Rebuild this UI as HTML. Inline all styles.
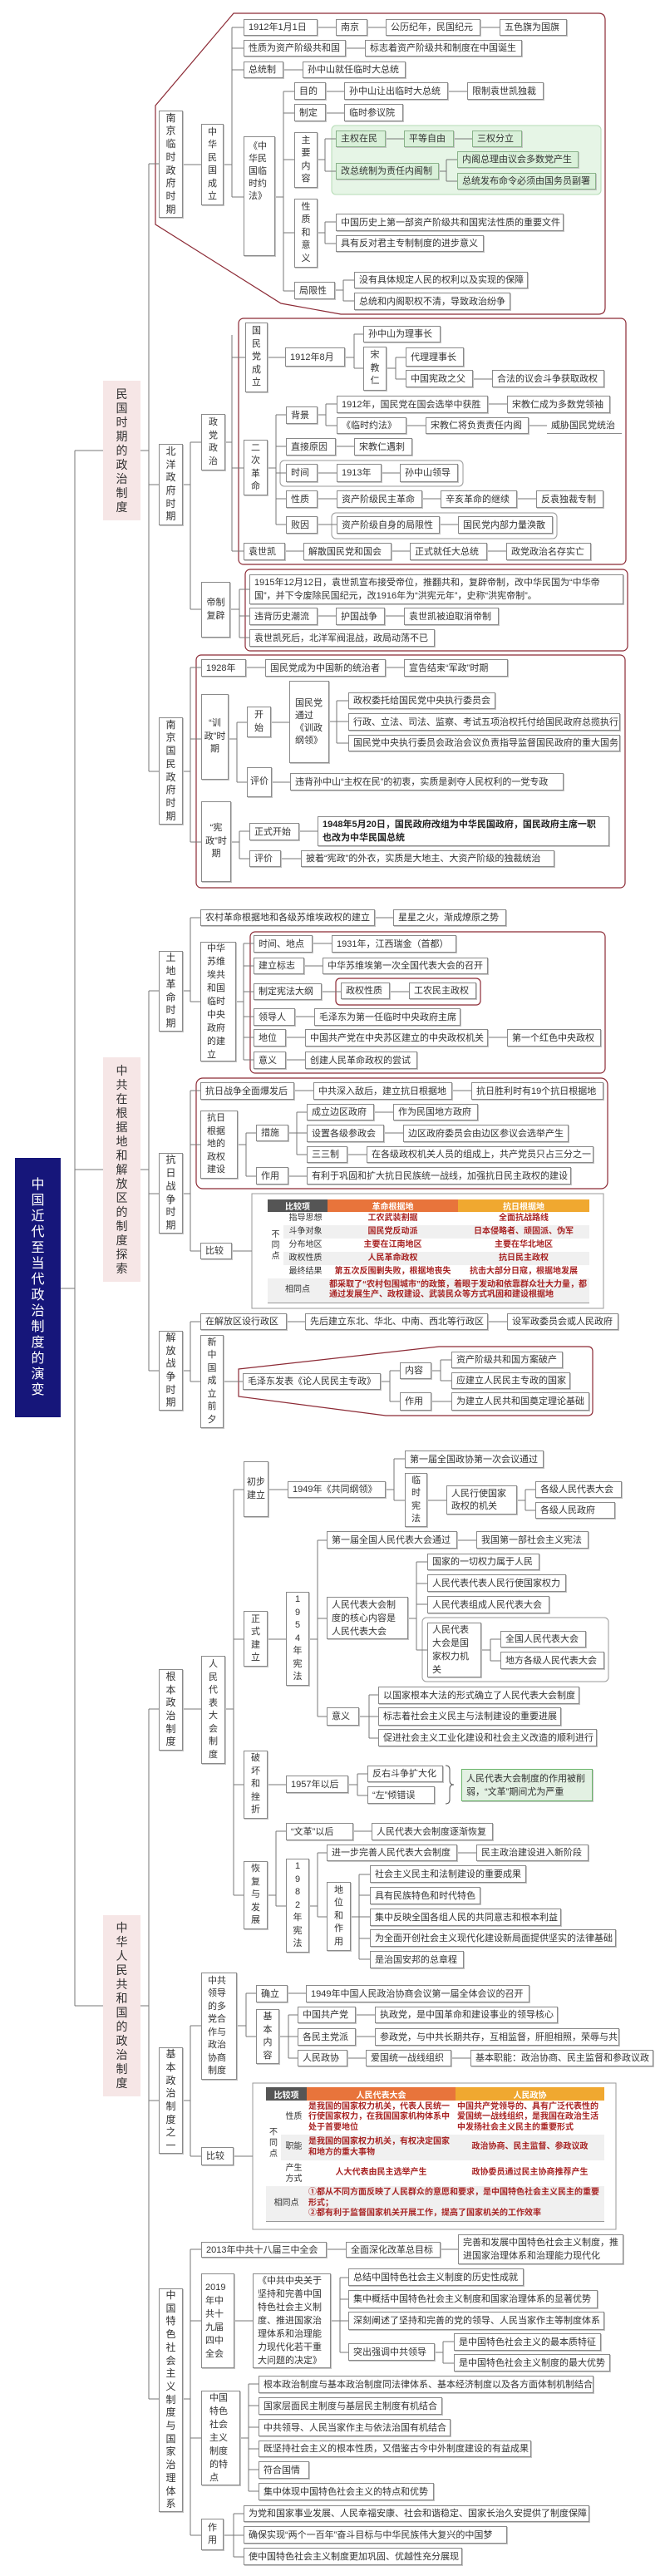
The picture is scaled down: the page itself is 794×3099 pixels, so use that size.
<!DOCTYPE html>
<html><head><meta charset="utf-8">
<style>
*{margin:0;padding:0;box-sizing:border-box}
body{width:794px;height:3099px;position:relative;background:#fff;overflow:hidden;font-family:"Liberation Sans","Noto Sans CJK SC",sans-serif;color:#333}
svg{position:absolute;left:0;top:0}
.b{position:absolute;background:#fff;border:1px solid #8a8a8a;box-shadow:1px 1px 0 #c4c4c4;font-size:11px;line-height:14px;display:flex;align-items:center;padding:0 5px;white-space:nowrap}
.v{white-space:normal;word-break:break-all;justify-content:center;text-align:center;padding:0 3px;line-height:15.5px}
.w{white-space:normal;word-break:break-all;line-height:15px}
.L2{font-size:12px;justify-content:center;text-align:center;white-space:normal;word-break:break-all;padding:0 3px;line-height:15.7px}
.pk{position:absolute;background:#f6e6e6;font-size:14px;line-height:17px;display:flex;align-items:center;justify-content:center;text-align:center;padding:0 14px;word-break:break-all}
.g{background:#d9f0d9;border-color:#8ab38a}
.t{position:absolute;border-collapse:collapse;table-layout:fixed;font-size:10px;background:#fff}
.t th{color:#fff;font-weight:bold;text-align:center}
.t td{text-align:center;color:#a82323;font-weight:bold;line-height:12.5px;padding:0 2px}
.t td.s{color:#333;font-weight:normal}
.t tr.gr td{background:#f0f0f0}
.t tr:last-child td{border-bottom:1px solid #999}
</style></head><body>
<svg width="794" height="3099">
<g fill="none" stroke="#8c2a35" stroke-width="1.2">
<path d="M281 16H720Q728 16 728 24V370Q728 378 720 378H410L338 365L187 270V127Z"/>
<rect x="287" y="383" width="466" height="296" rx="6"/>
<rect x="295" y="685" width="460" height="98" rx="6"/>
<rect x="236" y="788" width="516" height="280" rx="6"/>
<rect x="301" y="1121" width="427" height="170" rx="6"/>
<rect x="404" y="1177" width="174" height="32" rx="5"/>
<rect x="236" y="1297" width="495" height="133" rx="8"/>
<path d="M287 1647L528 1620H707Q713 1620 713 1626V1697Q713 1703 707 1703H464L287 1680Z"/>
</g>
<g fill="none" stroke="#999">
<rect x="337" y="554" width="220" height="31" rx="5"/>
<rect x="399" y="617" width="271" height="31" rx="5"/>
<rect x="508" y="1946" width="224" height="77" rx="5"/>
<rect x="303" y="1436" width="423" height="138"/>
<rect x="304" y="2506" width="437" height="176"/>
</g>
<rect x="399" y="151" width="324" height="83" rx="5" fill="#e6f5e6" stroke="#b5dbb5"/>
<path fill="none" stroke="#555" d="M536 2124q5 0 5 5V2142q0 5 5 5q-5 0-5 5V2165q0 5-5 5"/>
<path fill="none" stroke="#777" stroke-width="1" d="
M73 1550H90M90 542V2413M90 542H124M90 1407H124M90 2413H124
M169 542H179M179 197V928M179 197H191M179 583H191M179 928H191
M169 1407H179M179 1192V1649M179 1192H191M179 1436H191M179 1649H191
M169 2413H179M179 2056V2886M179 2056H191M179 2527H191M179 2886H191
M220 198H279M279 33V237M279 33H682M279 58H628M279 84H488M279 237H293
M331 237H341M341 110V350M341 110H654M341 136H485M341 192H354M341 280H354M341 350H354
M382 192H391M391 167V206M391 167H628M391 206H537M537 192V218M537 192H550M537 218H550
M382 280H391M391 267V293M391 267H404M391 293H404
M403 349H413M413 337V362M413 337H426M413 362H426
M220 583H229M229 532V733M229 532H242M229 733H242
M271 532H279M279 403V663M279 430H343M279 563H293M279 663H711
M415 430H426M426 402V443M426 402H437M426 443H437
M465 443H476M476 430V456M476 430H488M476 456H727
M322 563H332M332 499V631M332 499H344M332 537H496M332 569H551M332 600H726M332 631H665
M382 499H392M392 486V512M392 486H734M392 512H658
M277 733H288M288 709V767M288 709H300M288 741H600M288 767H300
M220 928H229M229 803V1013M229 803H611M229 889H242M229 1013H242
M275 889H285M285 869V941M285 869H348M285 941H678
M396 868H405M405 843V894M405 843H419M405 868H419M405 894H419
M278 1013H288M288 1000V1033M288 1000H382M288 1033H667
M220 1192H229M229 1104V1205M229 1104H609M229 1205H241
M284 1205H293M293 1135V1275M293 1135H549M293 1162H587M293 1193H573M293 1223H554M293 1248H723M293 1275H502
M220 1436H229M229 1312V1505M229 1312H726M229 1377H241M229 1505H303
M286 1377H296M296 1363V1415M296 1363H308M296 1415H687
M347 1363H357M357 1338V1389M357 1338H575M357 1363H684M357 1389H714
M220 1649H229M229 1590V1662M229 1590H744M229 1662H292
M458 1662H469M469 1649V1686M469 1649H481M469 1686H709
M519 1649H530M530 1636V1661M530 1636H543M530 1661H543
M220 2056H281M281 1792V2280M281 1792H474M281 1972H382M281 2147H430M281 2280H332
M474 1755V1805M474 1755H487M474 1805H632M632 1792V1817M632 1792H644M632 1817H644
M382 1853V2065M382 1853H708M382 1947H501M382 2065H444
M501 1879V1985M501 1879H514M501 1905H514M501 1930H514M501 1985H590
M590 1972V1998M590 1972H602M590 1998H602
M444 2039V2091M444 2039H455M444 2065H455M444 2091H455
M430 2134V2160M430 2134H442M430 2160H442
M332 2203V2293M332 2203H593M332 2293H382M382 2229V2306M382 2229H708M382 2306H432
M432 2255V2357M432 2255H445M432 2280H445M432 2306H445M432 2332H445M432 2357H445
M220 2527H229M229 2437V2594M229 2437H296M229 2594H304
M296 2398V2450M296 2398H637M296 2450H347M347 2424V2476M347 2424H671M347 2450H745M347 2476H786
M220 2886H229M229 2706V3050M229 2706H551M229 2792H409M229 2933H299M229 3050H281
M409 2740V2830M409 2740H419M409 2766H419M409 2792H419M409 2830H533M533 2817V2843M533 2817H546M533 2843H546
M299 2868V2997M299 2868H311M299 2894H311M299 2920H311M299 2946H311M299 2971H311M299 2997H311
M281 3024V3076M281 3024H293M281 3050H293M281 3076H293"/>
</svg>

<div class="pk" style="left:18px;top:1393px;width:55px;height:312px;background:#16167a;color:#fff;font-size:16px;line-height:19px;padding:0 17px">中国近代至当代政治制度的演变</div>
<div class="pk" style="left:124px;top:458px;width:45px;height:168px">民国时期的政治制度</div>
<div class="pk" style="left:124px;top:1272px;width:45px;height:270px">中共在根据地和解放区的制度探索</div>
<div class="pk" style="left:124px;top:2304px;width:45px;height:218px">中华人民共和国的政治制度</div>

<div class="b L2" style="left:191px;top:133px;width:29px;height:129px">南京临时政府时期</div>
<div class="b v" style="left:242px;top:149px;width:27px;height:98px">中华民国成立</div>
<div class="b" style="left:293px;top:23px;width:89px;height:20px">1912年1月1日</div>
<div class="b" style="left:404px;top:23px;width:38px;height:20px">南京</div>
<div class="b" style="left:464px;top:23px;width:114px;height:20px">公历纪年，民国纪元</div>
<div class="b" style="left:601px;top:23px;width:81px;height:20px">五色旗为国旗</div>
<div class="b" style="left:293px;top:48px;width:123px;height:20px">性质为资产阶级共和国</div>
<div class="b" style="left:439px;top:48px;width:189px;height:20px">标志着资产阶级共和制度在中国诞生</div>
<div class="b" style="left:293px;top:74px;width:48px;height:20px">总统制</div>
<div class="b" style="left:364px;top:74px;width:124px;height:20px">孙中山就任临时大总统</div>
<div class="b w" style="left:293px;top:164px;width:38px;height:144px;align-items:flex-start;padding-top:4px">《中华民国临时约法》</div>
<div class="b" style="left:354px;top:99px;width:38px;height:21px">目的</div>
<div class="b" style="left:414px;top:99px;width:125px;height:21px">孙中山让出临时大总统</div>
<div class="b" style="left:562px;top:99px;width:92px;height:21px">限制袁世凯独裁</div>
<div class="b" style="left:354px;top:125px;width:38px;height:21px">制定</div>
<div class="b" style="left:414px;top:125px;width:71px;height:21px">临时参议院</div>
<div class="b v" style="left:354px;top:159px;width:28px;height:67px">主要内容</div>
<div class="b g" style="left:404px;top:157px;width:60px;height:20px">主权在民</div>
<div class="b g" style="left:486px;top:157px;width:60px;height:20px">平等自由</div>
<div class="b g" style="left:568px;top:157px;width:60px;height:20px">三权分立</div>
<div class="b g" style="left:404px;top:196px;width:124px;height:20px">改总统制为责任内阁制</div>
<div class="b g" style="left:550px;top:182px;width:146px;height:20px">内阁总理由议会多数党产生</div>
<div class="b g" style="left:550px;top:208px;width:167px;height:20px">总统发布命令必须由国务员副署</div>
<div class="b v" style="left:354px;top:239px;width:28px;height:83px">性质和意义</div>
<div class="b" style="left:404px;top:257px;width:274px;height:21px">中国历史上第一部资产阶级共和国宪法性质的重要文件</div>
<div class="b" style="left:404px;top:283px;width:178px;height:20px">具有反对君主专制制度的进步意义</div>
<div class="b" style="left:354px;top:339px;width:49px;height:21px">局限性</div>
<div class="b" style="left:426px;top:327px;width:209px;height:20px">没有具体规定人民的权利以及实现的保障</div>
<div class="b" style="left:426px;top:352px;width:188px;height:21px">总统和内阁职权不清，导致政治纷争</div>

<div class="b L2" style="left:191px;top:534px;width:29px;height:98px">北洋政府时期</div>
<div class="b v" style="left:242px;top:498px;width:29px;height:68px">政党政治</div>
<div class="b v" style="left:295px;top:388px;width:27px;height:84px">国民党成立</div>
<div class="b" style="left:343px;top:418px;width:72px;height:23px">1912年8月</div>
<div class="b" style="left:437px;top:392px;width:93px;height:20px">孙中山为理事长</div>
<div class="b v" style="left:437px;top:417px;width:28px;height:53px">宋教仁</div>
<div class="b" style="left:488px;top:418px;width:70px;height:23px">代理理事长</div>
<div class="b" style="left:488px;top:445px;width:81px;height:21px">中国宪政之父</div>
<div class="b" style="left:592px;top:445px;width:135px;height:21px">合法的议会斗争获取政权</div>
<div class="b v" style="left:293px;top:529px;width:29px;height:67px">二次革命</div>
<div class="b" style="left:344px;top:489px;width:38px;height:21px">背景</div>
<div class="b" style="left:405px;top:476px;width:182px;height:21px">1912年，国民党在国会选举中获胜</div>
<div class="b" style="left:610px;top:476px;width:124px;height:21px">宋教仁成为多数党领袖</div>
<div class="b" style="left:405px;top:502px;width:84px;height:20px">《临时约法》</div>
<div class="b" style="left:512px;top:502px;width:124px;height:20px">宋教仁将负责责任内阁</div>
<div class="b" style="left:658px;top:502px;width:90px;height:20px;border:none;border-bottom:1px solid #8a8a8a;box-shadow:none;background:transparent">威胁国民党统治</div>
<div class="b" style="left:344px;top:527px;width:60px;height:21px">直接原因</div>
<div class="b" style="left:426px;top:527px;width:70px;height:21px">宋教仁遇刺</div>
<div class="b" style="left:344px;top:558px;width:38px;height:22px">时间</div>
<div class="b" style="left:405px;top:558px;width:54px;height:22px">1913年</div>
<div class="b" style="left:481px;top:558px;width:70px;height:22px">孙中山领导</div>
<div class="b" style="left:344px;top:590px;width:38px;height:21px">性质</div>
<div class="b" style="left:405px;top:590px;width:103px;height:21px">资产阶级民主革命</div>
<div class="b" style="left:530px;top:590px;width:92px;height:21px">辛亥革命的继续</div>
<div class="b" style="left:645px;top:590px;width:81px;height:21px">反袁独裁专制</div>
<div class="b" style="left:344px;top:621px;width:38px;height:21px">败因</div>
<div class="b" style="left:405px;top:621px;width:124px;height:21px">资产阶级自身的局限性</div>
<div class="b" style="left:551px;top:621px;width:114px;height:21px">国民党内部力量涣散</div>
<div class="b" style="left:293px;top:653px;width:50px;height:21px">袁世凯</div>
<div class="b" style="left:365px;top:653px;width:106px;height:21px">解散国民党和国会</div>
<div class="b" style="left:493px;top:653px;width:93px;height:21px">正式就任大总统</div>
<div class="b" style="left:609px;top:653px;width:102px;height:21px">政党政治名存实亡</div>
<div class="b v" style="left:242px;top:700px;width:35px;height:67px">帝制复辟</div>
<div class="b w" style="left:300px;top:691px;width:450px;height:36px;line-height:16px">1915年12月12日，袁世凯宣布接受帝位，推翻共和，复辟帝制，改中华民国为“中华帝国”，并下令废除民国纪元，改1916年为“洪宪元年”，史称“洪宪帝制”。</div>
<div class="b" style="left:300px;top:731px;width:82px;height:21px">违背历史潮流</div>
<div class="b" style="left:404px;top:731px;width:59px;height:21px">护国战争</div>
<div class="b" style="left:486px;top:731px;width:114px;height:21px">袁世凯被迫取消帝制</div>
<div class="b" style="left:300px;top:757px;width:223px;height:21px">袁世凯死后，北洋军阀混战，政局动荡不已</div>

<div class="b L2" style="left:191px;top:863px;width:29px;height:129px">南京国民政府时期</div>
<div class="b" style="left:242px;top:793px;width:54px;height:21px">1928年</div>
<div class="b" style="left:319px;top:793px;width:145px;height:21px">国民党成为中国新的统治者</div>
<div class="b" style="left:486px;top:793px;width:125px;height:21px">宣告结束“军政”时期</div>
<div class="b v" style="left:242px;top:835px;width:33px;height:103px">“训政”时期</div>
<div class="b v" style="left:297px;top:850px;width:29px;height:37px">开始</div>
<div class="b w" style="left:348px;top:819px;width:48px;height:99px;padding:0 6px">国民党通过《训政纲领》</div>
<div class="b" style="left:419px;top:833px;width:177px;height:20px">政权委托给国民党中央执行委员会</div>
<div class="b" style="left:419px;top:858px;width:327px;height:21px">行政、立法、司法、监察、考试五项治权托付给国民政府总揽执行</div>
<div class="b" style="left:419px;top:884px;width:327px;height:20px">国民党中央执行委员会政治会议负责指导监督国民政府的重大国务</div>
<div class="b v" style="left:297px;top:923px;width:30px;height:36px">评价</div>
<div class="b" style="left:349px;top:930px;width:329px;height:21px">违背孙中山“主权在民”的初衷，实质是剥夺人民权利的一党专政</div>
<div class="b v" style="left:242px;top:964px;width:36px;height:97px">“宪政”时期</div>
<div class="b" style="left:300px;top:990px;width:60px;height:21px">正式开始</div>
<div class="b w" style="left:382px;top:982px;width:351px;height:36px;font-weight:bold;color:#222;line-height:16px">1948年5月20日，国民政府改组为中华民国政府，国民政府主席一职也改为中华民国总统</div>
<div class="b" style="left:300px;top:1023px;width:38px;height:20px">评价</div>
<div class="b" style="left:362px;top:1023px;width:305px;height:20px">披着“宪政”的外衣，实质是大地主、大资产阶级的独裁统治</div>

<div class="b L2" style="left:191px;top:1144px;width:29px;height:97px">土地革命时期</div>
<div class="b" style="left:241px;top:1094px;width:210px;height:20px">农村革命根据地和各级苏维埃政权的建立</div>
<div class="b" style="left:473px;top:1094px;width:136px;height:20px">星星之火，渐成燎原之势</div>
<div class="b w" style="left:241px;top:1133px;width:43px;height:144px;padding:0 7px;line-height:16px">中华苏维埃共和国临时中央政府的建立</div>
<div class="b" style="left:305px;top:1125px;width:71px;height:21px">时间、地点</div>
<div class="b" style="left:399px;top:1125px;width:150px;height:21px">1931年，江西瑞金（首都）</div>
<div class="b" style="left:305px;top:1152px;width:61px;height:20px">建立标志</div>
<div class="b" style="left:388px;top:1152px;width:199px;height:20px">中华苏维埃第一次全国代表大会的召开</div>
<div class="b" style="left:305px;top:1183px;width:82px;height:20px">制定宪法大纲</div>
<div class="b" style="left:410px;top:1182px;width:59px;height:20px">政权性质</div>
<div class="b" style="left:492px;top:1182px;width:81px;height:20px">工农民主政权</div>
<div class="b" style="left:305px;top:1213px;width:50px;height:21px">领导人</div>
<div class="b" style="left:378px;top:1213px;width:176px;height:21px">毛泽东为第一任临时中央政府主席</div>
<div class="b" style="left:305px;top:1238px;width:39px;height:21px">地位</div>
<div class="b" style="left:367px;top:1238px;width:220px;height:21px">中国共产党在中央苏区建立的中央政权机关</div>
<div class="b" style="left:610px;top:1238px;width:113px;height:21px">第一个红色中央政权</div>
<div class="b" style="left:305px;top:1265px;width:39px;height:21px">意义</div>
<div class="b" style="left:367px;top:1265px;width:135px;height:21px">创建人民革命政权的尝试</div>

<div class="b L2" style="left:191px;top:1387px;width:29px;height:97px">抗日战争时期</div>
<div class="b" style="left:241px;top:1302px;width:113px;height:21px">抗日战争全面爆发后</div>
<div class="b" style="left:377px;top:1302px;width:167px;height:21px">中共深入敌后，建立抗日根据地</div>
<div class="b" style="left:567px;top:1302px;width:159px;height:21px">抗日胜利时有19个抗日根据地</div>
<div class="b w" style="left:241px;top:1336px;width:45px;height:82px;padding:0 7px;line-height:15.5px">抗日根据地的政权建设</div>
<div class="b" style="left:308px;top:1353px;width:39px;height:20px">措施</div>
<div class="b" style="left:369px;top:1328px;width:81px;height:20px">成立边区政府</div>
<div class="b" style="left:473px;top:1328px;width:102px;height:20px">作为民国地方政府</div>
<div class="b" style="left:369px;top:1353px;width:93px;height:21px">设置各级参政会</div>
<div class="b" style="left:485px;top:1353px;width:199px;height:21px">边区政府委员会由边区参议会选举产生</div>
<div class="b" style="left:369px;top:1379px;width:49px;height:20px">三三制</div>
<div class="b" style="left:441px;top:1379px;width:273px;height:20px">在各级政权机关人员的组成上，共产党员只占三分之一</div>
<div class="b" style="left:308px;top:1404px;width:39px;height:21px">作用</div>
<div class="b" style="left:369px;top:1404px;width:318px;height:21px">有利于巩固和扩大抗日民族统一战线，加强抗日民主政权的建设</div>
<div class="b" style="left:241px;top:1495px;width:38px;height:20px">比较</div>
<table class="t" style="left:322px;top:1443px;width:387px">
<colgroup><col style="width:19px"><col style="width:53px"><col style="width:157px"><col style="width:158px"></colgroup>
<tr style="height:15px"><th colspan="2" style="background:#555">比较项</th><th style="background:#e8743b">革命根据地</th><th style="background:#f0a830">抗日根据地</th></tr>
<tr style="height:16px"><td rowspan="5" class="s" style="line-height:13px">不同点</td><td class="s">指导思想</td><td>工农武装割据</td><td>全面抗战路线</td></tr>
<tr class="gr" style="height:16px"><td class="s">斗争对象</td><td>国民党反动派</td><td>日本侵略者、顽固派、伪军</td></tr>
<tr style="height:16px"><td class="s">分布地区</td><td>主要在江南地区</td><td>主要在华北地区</td></tr>
<tr class="gr" style="height:16px"><td class="s">政权性质</td><td>人民革命政权</td><td>抗日民主政权</td></tr>
<tr style="height:16px"><td class="s">最终结果</td><td>第五次反围剿失败，根据地丧失</td><td>抗击大部分日寇，根据地发展</td></tr>
<tr class="gr" style="height:29px"><td colspan="2" class="s">相同点</td><td colspan="2" style="text-align:left">都采取了“农村包围城市”的政策，着眼于发动和依靠群众壮大力量，都通过发展生产、政权建设、武装民众等方式巩固和建设根据地</td></tr>
</table>

<div class="b L2" style="left:191px;top:1601px;width:29px;height:96px">解放战争时期</div>
<div class="b" style="left:241px;top:1580px;width:104px;height:20px">在解放区设行政区</div>
<div class="b" style="left:367px;top:1580px;width:220px;height:20px">先后建立东北、华北、中南、西北等行政区</div>
<div class="b" style="left:610px;top:1580px;width:134px;height:20px">设军政委员会或人民政府</div>
<div class="b v" style="left:241px;top:1606px;width:28px;height:112px">新中国成立前夕</div>
<div class="b" style="left:292px;top:1652px;width:166px;height:20px">毛泽东发表《论人民民主专政》</div>
<div class="b" style="left:481px;top:1639px;width:38px;height:20px">内容</div>
<div class="b" style="left:543px;top:1626px;width:134px;height:20px">资产阶级共和国方案破产</div>
<div class="b" style="left:543px;top:1651px;width:143px;height:20px">应建立人民民主专政的国家</div>
<div class="b" style="left:481px;top:1675px;width:38px;height:22px">作用</div>
<div class="b" style="left:543px;top:1675px;width:166px;height:22px">为建立人民共和国奠定理论基础</div>

<div class="b L2" style="left:191px;top:2008px;width:29px;height:98px">根本政治制度</div>
<div class="b v" style="left:242px;top:1992px;width:29px;height:130px">人民代表大会制度</div>
<div class="b v" style="left:293px;top:1758px;width:30px;height:67px">初步建立</div>
<div class="b" style="left:346px;top:1782px;width:118px;height:20px">1949年《共同纲领》</div>
<div class="b" style="left:487px;top:1745px;width:167px;height:21px">第一届全国政协第一次会议通过</div>
<div class="b v" style="left:487px;top:1772px;width:27px;height:65px">临时宪法</div>
<div class="b w" style="left:537px;top:1787px;width:85px;height:35px">人民行使国家政权的机关</div>
<div class="b" style="left:644px;top:1782px;width:104px;height:20px">各级人民代表大会</div>
<div class="b" style="left:644px;top:1807px;width:96px;height:20px">各级人民政府</div>
<div class="b v" style="left:293px;top:1938px;width:29px;height:67px">正式建立</div>
<div class="b v" style="left:344px;top:1915px;width:28px;height:113px">1<br>9<br>5<br>4<br>年<br>宪<br>法</div>
<div class="b" style="left:393px;top:1842px;width:157px;height:21px">第一届全国人民代表大会通过</div>
<div class="b" style="left:573px;top:1842px;width:135px;height:21px">我国第一部社会主义宪法</div>
<div class="b w" style="left:393px;top:1921px;width:98px;height:51px;line-height:16px">人民代表大会制度的核心内容是人民代表大会</div>
<div class="b" style="left:514px;top:1869px;width:135px;height:20px">国家的一切权力属于人民</div>
<div class="b" style="left:514px;top:1894px;width:167px;height:21px">人民代表代表人民行使国家权力</div>
<div class="b" style="left:514px;top:1920px;width:147px;height:21px">人民代表组成人民代表大会</div>
<div class="b w" style="left:514px;top:1952px;width:65px;height:66px;line-height:16px">人民代表大会是国家权力机关</div>
<div class="b" style="left:602px;top:1962px;width:103px;height:20px">全国人民代表大会</div>
<div class="b" style="left:602px;top:1987px;width:125px;height:21px">地方各级人民代表大会</div>
<div class="b" style="left:393px;top:2054px;width:39px;height:22px">意义</div>
<div class="b" style="left:455px;top:2029px;width:242px;height:21px">以国家根本大法的形式确立了人民代表大会制度</div>
<div class="b" style="left:455px;top:2054px;width:220px;height:22px">标志着社会主义民主与法制建设的重要进展</div>
<div class="b" style="left:455px;top:2080px;width:263px;height:21px">促进社会主义工业化建设和社会主义改造的顺利进行</div>
<div class="b v" style="left:293px;top:2106px;width:29px;height:82px">破坏和挫折</div>
<div class="b" style="left:344px;top:2136px;width:75px;height:21px">1957年以后</div>
<div class="b" style="left:442px;top:2124px;width:91px;height:20px">反右斗争扩大化</div>
<div class="b" style="left:442px;top:2149px;width:81px;height:21px">“左”倾错误</div>
<div class="b w" style="left:555px;top:2128px;width:158px;height:39px;background:#e3f1e3;border-color:#6ab46a;line-height:16px">人民代表大会制度的作用被削弱，“文革”期间尤为严重</div>
<div class="b v" style="left:293px;top:2239px;width:29px;height:82px">恢复与发展</div>
<div class="b" style="left:344px;top:2193px;width:81px;height:21px">“文革”以后</div>
<div class="b" style="left:447px;top:2193px;width:146px;height:21px">人民代表大会制度逐渐恢复</div>
<div class="b v" style="left:344px;top:2236px;width:28px;height:113px">1<br>9<br>8<br>2<br>年<br>宪<br>法</div>
<div class="b" style="left:393px;top:2219px;width:157px;height:20px">进一步完善人民代表大会制度</div>
<div class="b" style="left:573px;top:2219px;width:135px;height:20px">民主政治建设进入新阶段</div>
<div class="b v" style="left:393px;top:2264px;width:29px;height:83px">地位和作用</div>
<div class="b" style="left:445px;top:2244px;width:188px;height:21px">社会主义民主和法制建设的重要成果</div>
<div class="b" style="left:445px;top:2270px;width:133px;height:21px">具有民族特色和时代特色</div>
<div class="b" style="left:445px;top:2296px;width:230px;height:21px">集中反映全国各组人民的共同意志和根本利益</div>
<div class="b" style="left:445px;top:2321px;width:296px;height:21px">为全面开创社会主义现代化建设新局面提供坚实的法律基础</div>
<div class="b" style="left:445px;top:2347px;width:113px;height:21px">是治国安邦的总章程</div>

<div class="b L2" style="left:191px;top:2463px;width:29px;height:128px">基本政治制度之一</div>
<div class="b w" style="left:242px;top:2373px;width:43px;height:129px;padding:0 7px;line-height:15.5px">中共领导的多党合作与政治协商制度</div>
<div class="b" style="left:308px;top:2388px;width:38px;height:21px">确立</div>
<div class="b" style="left:368px;top:2388px;width:269px;height:21px">1949年中国人民政治协商会议第一届全体会议的召开</div>
<div class="b v" style="left:308px;top:2417px;width:28px;height:66px">基本内容</div>
<div class="b" style="left:358px;top:2414px;width:70px;height:20px">中国共产党</div>
<div class="b" style="left:451px;top:2414px;width:220px;height:20px">执政党，是中国革命和建设事业的领导核心</div>
<div class="b" style="left:358px;top:2440px;width:70px;height:21px">各民主党派</div>
<div class="b" style="left:451px;top:2440px;width:294px;height:21px">参政党，与中共长期共存，互相监督，肝胆相照，荣辱与共</div>
<div class="b" style="left:358px;top:2466px;width:60px;height:20px">人民政协</div>
<div class="b" style="left:440px;top:2466px;width:103px;height:20px">爱国统一战线组织</div>
<div class="b" style="left:566px;top:2466px;width:220px;height:20px">基本职能：政治协商、民主监督和参政议政</div>
<div class="b" style="left:242px;top:2583px;width:39px;height:22px">比较</div>
<table class="t" style="left:320px;top:2511px;width:407px">
<colgroup><col style="width:18px"><col style="width:31px"><col style="width:179px"><col style="width:179px"></colgroup>
<tr style="height:16px"><th colspan="2" style="background:#555">比较项</th><th style="background:#e8743b">人民代表大会</th><th style="background:#f0a830">人民政协</th></tr>
<tr style="height:41px"><td rowspan="3" class="s" style="line-height:13px">不同点</td><td class="s">性质</td><td style="text-align:left">是我国的国家权力机关，代表人民统一行使国家权力，在我国国家机构体系中处于首要地位</td><td style="text-align:left">中国共产党领导的、具有广泛代表性的爱国统一战线组织，是我国在政治生活中发扬社会主义民主的重要形式</td></tr>
<tr class="gr" style="height:31px"><td class="s">职能</td><td style="text-align:left">是我国的国家权力机关，有权决定国家和地方的重大事物</td><td>政治协商、民主监督、参政议政</td></tr>
<tr style="height:31px"><td class="s" style="line-height:13px">产生方式</td><td>人大代表由民主选举产生</td><td>政协委员通过民主协商推荐产生</td></tr>
<tr class="gr" style="height:42px"><td colspan="2" class="s">相同点</td><td colspan="2" style="text-align:left">①都从不同方面反映了人民群众的意愿和要求，是中国特色社会主义民主的重要形式；<br>②都有利于监督国家机关开展工作，提高了国家机关的工作效率</td></tr>
</table>

<div class="b L2" style="left:191px;top:2753px;width:29px;height:269px">中国特色社会主义制度与国家治理体系</div>
<div class="b" style="left:242px;top:2697px;width:151px;height:19px">2013年中共十八届三中全会</div>
<div class="b" style="left:416px;top:2697px;width:114px;height:19px">全面深化改革总目标</div>
<div class="b w" style="left:551px;top:2688px;width:199px;height:36px;line-height:16px">完善和发展中国特色社会主义制度，推进国家治理体系和治理能力现代化</div>
<div class="b w" style="left:242px;top:2735px;width:40px;height:114px;padding:0 4px;line-height:16px">2019年中共十九届四中全会</div>
<div class="b w" style="left:304px;top:2735px;width:94px;height:114px;line-height:16px">《中共中央关于坚持和完善中国特色社会主义制度、推进国家治理体系和治理能力现代化若干重大问题的决定》</div>
<div class="b" style="left:419px;top:2729px;width:211px;height:21px">总结中国特色社会主义制度的历史性成就</div>
<div class="b" style="left:419px;top:2755px;width:300px;height:22px">集中概括中国特色社会主义制度和国家治理体系的显著优势</div>
<div class="b" style="left:419px;top:2781px;width:308px;height:22px">深刻阐述了坚持和完善的党的领导、人民当家作主等制度体系</div>
<div class="b" style="left:419px;top:2819px;width:104px;height:21px">突出强调中共领导</div>
<div class="b" style="left:546px;top:2807px;width:177px;height:21px">是中国特色社会主义的最本质特征</div>
<div class="b" style="left:546px;top:2832px;width:188px;height:21px">是中国特色社会主义制度的最大优势</div>
<div class="b w" style="left:242px;top:2876px;width:47px;height:114px;padding:0 9px;line-height:16px">中国特色社会主义制度的特点</div>
<div class="b" style="left:311px;top:2858px;width:403px;height:21px">根本政治制度与基本政治制度同法律体系、基本经济制度以及各方面体制机制结合</div>
<div class="b" style="left:311px;top:2884px;width:221px;height:21px">国家层面民主制度与基层民主制度有机结合</div>
<div class="b" style="left:311px;top:2910px;width:231px;height:21px">中共领导、人民当家作主与依法治国有机结合</div>
<div class="b" style="left:311px;top:2936px;width:328px;height:20px">既坚持社会主义的根本性质，又借鉴古今中外制度建设的有益成果</div>
<div class="b" style="left:311px;top:2961px;width:61px;height:21px">符合国情</div>
<div class="b" style="left:311px;top:2987px;width:211px;height:21px">集中体现中国特色社会主义的特点和优势</div>
<div class="b v" style="left:242px;top:3030px;width:27px;height:38px">作用</div>
<div class="b" style="left:293px;top:3014px;width:416px;height:20px">为党和国家事业发展、人民幸福安康、社会和谐稳定、国家长治久安提供了制度保障</div>
<div class="b" style="left:293px;top:3039px;width:317px;height:21px">确保实现“两个一百年”奋斗目标与中华民族伟大复兴的中国梦</div>
<div class="b" style="left:293px;top:3065px;width:263px;height:21px">使中国特色社会主义制度更加巩固、优越性充分展现</div>
</body></html>
